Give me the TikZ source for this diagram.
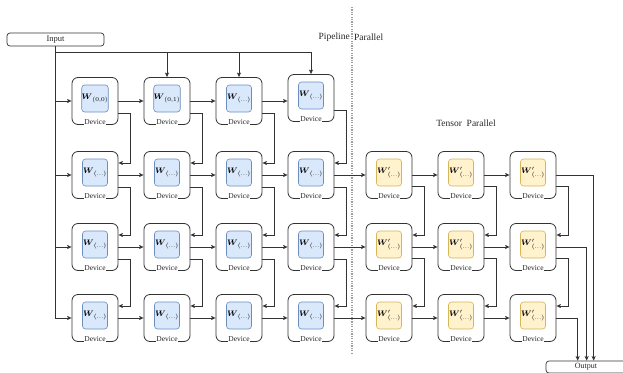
\documentclass[tikz,border=0pt]{standalone}
\usepackage{amsmath}
\usepackage{fontspec}
\setmainfont{Liberation Serif}
\usetikzlibrary{arrows.meta,calc}
\definecolor{cBlueFill}{HTML}{DAE8FC}
\definecolor{cBlueLine}{HTML}{6C8EBF}
\definecolor{cYelFill}{HTML}{FFF2CC}
\definecolor{cYelLine}{HTML}{D6B656}
\definecolor{cLine}{HTML}{333333}
\tikzset{
  devbox/.style={draw=cLine,line width=0.8pt,rounded corners=6pt,minimum width=46pt,minimum height=47pt,inner sep=0pt,fill=white},
  wbox/.style={draw=cBlueLine,fill=cBlueFill,rounded corners=3pt,minimum width=25pt,minimum height=27pt,inner sep=0pt,line width=0.6pt,font=\fontsize{8.5}{9}\selectfont},
  ybox/.style={wbox,draw=cYelLine,fill=cYelFill},
  devlabel/.style={fill=white,inner sep=0.6pt,text=black!85,font=\fontsize{7.5}{8}\selectfont},
  link/.style={draw=cLine,line width=0.7pt},
  linkarrow/.style={link,-{Stealth[length=4.5pt,width=4pt,inset=1pt]}},
  iobox/.style={draw=cLine,line width=0.7pt,rounded corners=3pt,inner sep=0pt,text=black!85},
  headtext/.style={inner sep=0pt,text=black!85,font=\fontsize{9.5}{11}\selectfont}
}
\newcommand{\mydevice}[5]{% name, x, y, style, label
  \node[devbox] (d#1) at (#2pt,#3pt) {};
  \node[#4] (w#1) at (#2pt,#3pt+2.5pt) {#5};
  \node[devlabel] (l#1) at (#2pt,#3pt-21.5pt) {Device};
}
\begin{document}
\begin{tikzpicture}
\clip (0pt,-372pt) rectangle (623pt,0pt);
% pipeline devices (y values negative: top of picture is 0)
\mydevice{11}{95}{-101}{wbox}{$\boldsymbol{W}_{(0,0)}$}
\mydevice{12}{167}{-101}{wbox}{$\boldsymbol{W}_{(0,1)}$}
\mydevice{13}{239}{-101}{wbox}{$\boldsymbol{W}_{(\ldots)}$}
\mydevice{14}{311}{-98}{wbox}{$\boldsymbol{W}_{(\ldots)}$}
\foreach \ci/\cx in {1/95,2/167,3/239,4/311}{
  \foreach \ri/\cy in {2/-175,3/-247,4/-318}{
    \mydevice{\ri\ci}{\cx}{\cy}{wbox}{$\boldsymbol{W}_{(\ldots)}$}
  }
}
% tensor devices
\foreach \ci/\cx in {5/389,6/461,7/533}{
  \foreach \ri/\cy in {2/-175,3/-247,4/-318}{
    \mydevice{\ri\ci}{\cx}{\cy}{ybox}{$\boldsymbol{W}'_{(\ldots)}$}
  }
}
% input / output
\node[iobox,minimum width=97pt,minimum height=13pt,font=\fontsize{8.5}{9}\selectfont] (in) at (55.5pt,-39.5pt) {Input};
\node[iobox,minimum width=80pt,minimum height=12pt,font=\fontsize{8}{9}\selectfont] (out) at (586pt,-367pt) {Output};
% headings and divider
\node[headtext,anchor=east] (hpa) at (350pt,-37pt) {Pipeline};
\node[headtext,anchor=west] (hpb) at (354pt,-37pt) {Parallel};
\node[headtext] (ht) at (466pt,-123pt) {Tensor\ \ Parallel};
\coordinate (dva) at (352pt,-7pt);
\coordinate (dvb) at (352pt,-353pt);
\draw[gray!75,line width=1.2pt,dash pattern=on 1.2pt off 1.2pt] (dva) -- (dvb);
% input feeds
\coordinate (topline) at (55.5pt,-52pt);
\draw[link] (topline) -- (topline -| d14.north);
\foreach \ci in {2,3,4}{\draw[linkarrow] (topline -| d1\ci.north) -- (d1\ci.north);}
\draw[linkarrow] (in.south) |- (d41.west);
\foreach \ri in {1,2,3}{\draw[linkarrow] (in.south |- d\ri1.west) -- (d\ri1.west);}
% horizontal arrows
\foreach \ri in {1,2,3,4}{
  \foreach \ci/\ni in {1/2,2/3}{\draw[linkarrow] (d\ri\ci.east) -- (d\ri\ni.west);}
}
\draw[linkarrow] (d13.east) -- (d13.east -| d14.west);
\foreach \ri in {2,3,4}{
  \foreach \ci/\ni in {3/4,4/5,5/6,6/7}{\draw[linkarrow] (d\ri\ci.east) -- (d\ri\ni.west);}
}
% vertical hand-offs
\foreach \ci in {1,2,3,4}{
  \foreach \ri/\ni in {1/2,2/3,3/4}{
    \draw[linkarrow] ([yshift=-12pt]d\ri\ci.east) -- ++(12pt,0pt) |- ([yshift=12pt]d\ni\ci.east);
  }
}
\foreach \ci in {5,6,7}{
  \foreach \ri/\ni in {2/3,3/4}{
    \draw[linkarrow] ([yshift=-11pt]d\ri\ci.east) -- ++(12pt,0pt) |- ([yshift=12pt]d\ni\ci.east);
  }
}
% to output
\draw[linkarrow] (d47.east) -| ([xshift=32pt]out.north west);
\draw[linkarrow] (d37.east) -| ([xshift=41pt]out.north west);
\draw[linkarrow] (d27.east) -| ([xshift=48pt]out.north west);
\end{tikzpicture}
\end{document}
